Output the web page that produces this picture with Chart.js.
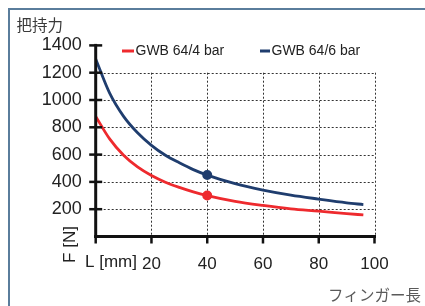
<!DOCTYPE html>
<html><head><meta charset="utf-8">
<script src="https://cdn.jsdelivr.net/npm/chart.js@4/dist/chart.umd.min.js"></script>
<style>html,body{margin:0;padding:0;background:#fff;overflow:hidden}canvas{display:block}</style>
</head><body>
<canvas id="c" width="425" height="306"></canvas>
<script>
// ---- data ----
const fingerLength = [0, 5, 10, 15, 20, 25, 30, 35, 40, 50, 60, 70, 80, 90, 96];
const force4bar   = [880, 715, 595, 510, 447, 398, 360, 327, 300, 258, 228, 203, 186, 168, 158];
const force6bar   = [1300, 1050, 880, 760, 668, 595, 540, 490, 450, 387, 340, 303, 274, 247, 234];
const seriesLabels = ['GWB 64/4 bar', 'GWB 64/6 bar'];
const xTickValues = [0, 20, 40, 60, 80, 100];
const yTickValues = [0, 200, 400, 600, 800, 1000, 1200, 1400];
const gridTopValue = 1200;
const markedLength = 40;
const topTitle = '把持力';
const bottomTitle = 'フィンガー長';
const yAxisTitle = 'F [N]';
const xAxisTitle = 'L [mm]';

const RED = '#ee2a2e', BLUE = '#1f3d6e';
const toXY = (ys) => fingerLength.map((x, i) => ({x, y: ys[i]}));
const markRadius = (ctx) => (fingerLength[ctx.dataIndex] === markedLength ? 3.6 : 0);

const decor = {
  id: 'decor',
  beforeDatasetsDraw(chart) {
    const {ctx, scales: {x, y}} = chart;
    ctx.save();
    ctx.strokeStyle = '#333';
    ctx.lineWidth = 1;
    ctx.setLineDash([2, 2]);
    const x0 = x.getPixelForValue(xTickValues[0]);
    const x1 = x.getPixelForValue(xTickValues[xTickValues.length - 1]);
    const y0 = y.getPixelForValue(0);
    const yTop = y.getPixelForValue(gridTopValue);
    yTickValues.filter(v => v > 0 && v <= gridTopValue).forEach(v => {
      const py = Math.round(y.getPixelForValue(v)) + 0.5;
      ctx.beginPath(); ctx.moveTo(x0, py); ctx.lineTo(x1, py); ctx.stroke();
    });
    xTickValues.filter(v => v > 0).forEach(v => {
      const px = Math.round(x.getPixelForValue(v)) + 0.5;
      ctx.beginPath(); ctx.moveTo(px, yTop); ctx.lineTo(px, y0); ctx.stroke();
    });
    ctx.restore();
  },
  afterDatasetsDraw(chart) {
    const {ctx, scales: {x, y}} = chart;
    ctx.save();
    ctx.strokeStyle = '#111';
    ctx.lineWidth = 3;
    ctx.lineCap = 'butt';
    const ax = x.getPixelForValue(0);
    const ay = y.getPixelForValue(0);
    const axR = x.getPixelForValue(xTickValues[xTickValues.length - 1]);
    const ayT = y.getPixelForValue(yTickValues[yTickValues.length - 1]);
    ctx.beginPath(); ctx.moveTo(ax, ay + 1.5); ctx.lineTo(ax, ayT - 1.5); ctx.stroke();
    ctx.beginPath(); ctx.moveTo(ax - 1.5, ay); ctx.lineTo(axR + 1.5, ay); ctx.stroke();
    ctx.lineWidth = 2.5;
    yTickValues.filter(v => v > 0).forEach(v => {
      const py = y.getPixelForValue(v);
      ctx.beginPath(); ctx.moveTo(ax - 6.5, py); ctx.lineTo(ax + 6.5, py); ctx.stroke();
    });
    xTickValues.forEach(v => {
      const px = x.getPixelForValue(v);
      ctx.beginPath(); ctx.moveTo(px, ay); ctx.lineTo(px, ay + 7); ctx.stroke();
    });
    ctx.restore();
  },
  afterDraw(chart) {
    const {ctx} = chart;
    ctx.save();
    // frame
    ctx.fillStyle = '#5a7d9c';
    ctx.fillRect(8, 8, 417, 2);
    ctx.fillRect(8, 8, 2, 298);
    // titles
    ctx.fillStyle = '#3a3a3a';
    ctx.font = '15.5px "Noto Sans CJK JP"';
    ctx.textBaseline = 'middle';
    ctx.textAlign = 'left';
    ctx.fillText(topTitle, 16.5, 25);
    ctx.fillStyle = '#5a5a5a';
    ctx.textAlign = 'right';
    ctx.fillText(bottomTitle, 421, 295.5);
    // axis titles
    ctx.fillStyle = '#222';
    ctx.font = '17px "Liberation Sans", Arial, sans-serif';
    ctx.textAlign = 'left';
    ctx.textBaseline = 'alphabetic';
    ctx.fillText(xAxisTitle, 85, 266.5);
    ctx.translate(75, 244.5);
    ctx.rotate(-Math.PI / 2);
    ctx.textAlign = 'center';
    ctx.fillText(yAxisTitle, 0, 0);
    ctx.restore();
    // legend
    ctx.save();
    ctx.font = '14px "Liberation Sans", Arial, sans-serif';
    ctx.textBaseline = 'middle';
    ctx.textAlign = 'left';
    const legendPos = [[122, 12], [260, 10]];
    chart.data.datasets.forEach((ds, i) => {
      const [lx, lw] = legendPos[i];
      ctx.fillStyle = ds.borderColor;
      ctx.fillRect(lx, 49.5, lw, 3);
      ctx.fillStyle = '#222';
      ctx.fillText(ds.label, lx + lw + 1.5, 51.5);
    });
    ctx.restore();
  }
};

new Chart(document.getElementById('c'), {
  type: 'line',
  data: {
    datasets: [
      {label: seriesLabels[0], data: toXY(force4bar), borderColor: RED, backgroundColor: RED,
       borderWidth: 2.8, pointRadius: markRadius, pointHoverRadius: 0, cubicInterpolationMode: 'monotone', fill: false},
      {label: seriesLabels[1], data: toXY(force6bar), borderColor: BLUE, backgroundColor: BLUE,
       borderWidth: 2.8, pointRadius: markRadius, pointHoverRadius: 0, cubicInterpolationMode: 'monotone', fill: false}
    ]
  },
  options: {
    responsive: false,
    animation: false,
    devicePixelRatio: 1,
    events: [],
    layout: {padding: {top: 45.4, right: 50.5, left: 0, bottom: 0}},
    plugins: {legend: {display: false}, title: {display: false}, tooltip: {enabled: false}},
    scales: {
      x: {
        type: 'linear', min: 0, max: 100,
        afterBuildTicks: s => { s.ticks = xTickValues.map(v => ({value: v})); },
        afterFit: s => { s.height = 306 - 236.5; },
        grid: {display: false, drawTicks: false}, border: {display: false},
        ticks: {padding: 17.5, color: '#222', font: {family: '"Liberation Sans", Arial, sans-serif', size: 17},
                maxRotation: 0, autoSkip: false, callback: v => (v === 0 ? '' : String(v))}
      },
      y: {
        type: 'linear', min: 0, max: 1400,
        afterBuildTicks: s => { s.ticks = yTickValues.map(v => ({value: v})); },
        afterFit: s => { s.width = 95.7; },
        grid: {display: false, drawTicks: false}, border: {display: false},
        ticks: {padding: 14, color: '#222', font: {family: '"Liberation Sans", Arial, sans-serif', size: 18},
                autoSkip: false, callback: v => (v === 0 ? '' : String(v))}
      }
    }
  },
  plugins: [decor]
});
</script>
</body></html>
